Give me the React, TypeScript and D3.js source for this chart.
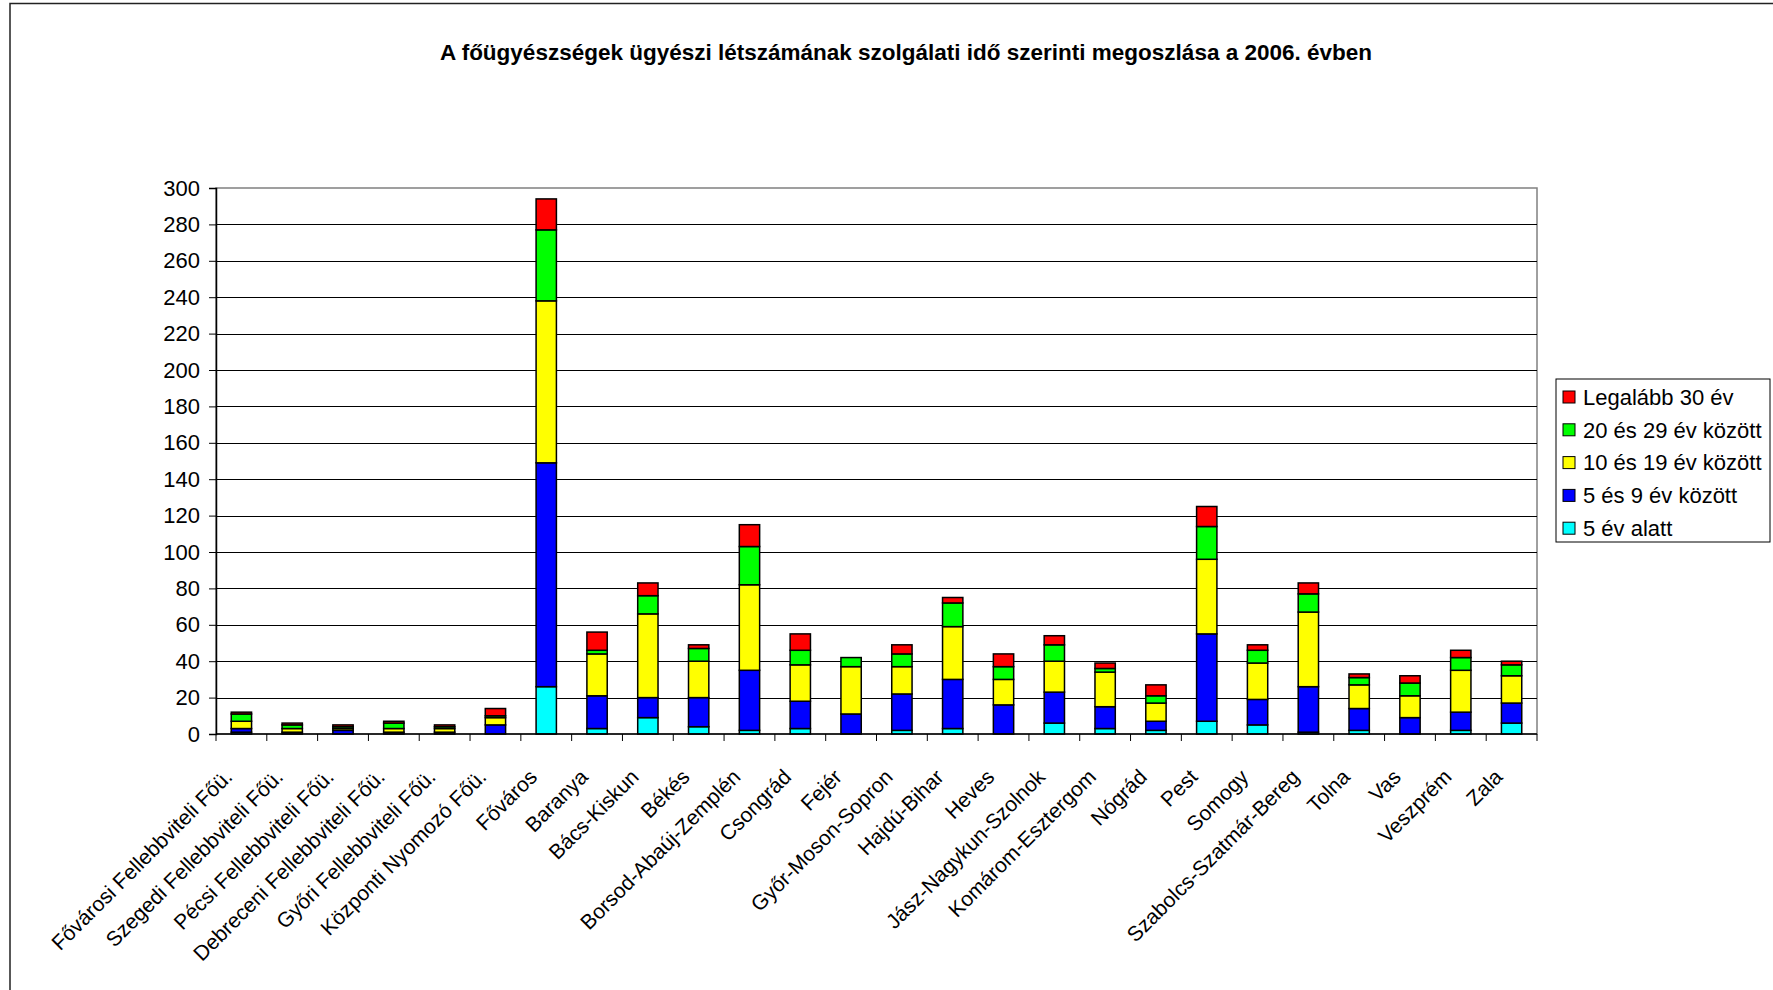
import React, { useEffect, useRef } from 'react';
import * as d3 from 'd3';

const categories = [
  'Fővárosi Fellebbviteli Főü.', 'Szegedi Fellebbviteli Főü.', 'Pécsi Fellebbviteli Főü.',
  'Debreceni Fellebbviteli Főü.', 'Győri Fellebbviteli Főü.', 'Központi Nyomozó Főü.',
  'Főváros', 'Baranya', 'Bács-Kiskun', 'Békés', 'Borsod-Abaúj-Zemplén', 'Csongrád', 'Fejér',
  'Győr-Moson-Sopron', 'Hajdú-Bihar', 'Heves', 'Jász-Nagykun-Szolnok', 'Komárom-Esztergom',
  'Nógrád', 'Pest', 'Somogy', 'Szabolcs-Szatmár-Bereg', 'Tolna', 'Vas', 'Veszprém', 'Zala'
];

const under5 = [1, 0, 0, 0, 0, 0, 26, 3, 9, 4, 2, 3, 0, 2, 3, 0, 6, 3, 2, 7, 5, 1, 2, 0, 2, 6];
const from5to9 = [2, 1, 2, 1, 1, 5, 123, 18, 11, 16, 33, 15, 11, 20, 27, 16, 17, 12, 5, 48, 14, 25, 12, 9, 10, 11];
const from10to19 = [4, 2, 1, 2, 2, 4, 89, 23, 46, 20, 47, 20, 26, 15, 29, 14, 17, 19, 10, 41, 20, 41, 13, 12, 23, 15];
const from20to29 = [4, 2, 1, 3, 1, 1, 39, 2, 10, 7, 21, 8, 5, 7, 13, 7, 9, 2, 4, 18, 7, 10, 4, 7, 7, 6];
const atLeast30 = [1, 1, 1, 1, 1, 4, 17, 10, 7, 2, 12, 9, 0, 5, 3, 7, 5, 3, 6, 11, 3, 6, 2, 4, 4, 2];

const seriesNames = ['5 év alatt', '5 és 9 év között', '10 és 19 év között', '20 és 29 év között', 'Legalább 30 év'];
const seriesColors = ['#00FFFF', '#0000FF', '#FFFF00', '#00FF00', '#FF0000'];
const yTicks = d3.range(0, 301, 20);

const title = 'A főügyészségek ügyészi létszámának szolgálati idő szerinti megoszlása a 2006. évben';
const font = '"Liberation Sans", Arial, sans-serif';

export default function App() {
  const ref = useRef<SVGSVGElement>(null);

  useEffect(() => {
    const svg = d3.select(ref.current);
    svg.selectAll('*').remove();

    const left = 216, right = 1537, top = 188, bottom = 734;

    const rows = categories.map((c, i) => ({
      cat: c,
      s0: under5[i], s1: from5to9[i], s2: from10to19[i], s3: from20to29[i], s4: atLeast30[i]
    }));
    const keys = ['s0', 's1', 's2', 's3', 's4'];
    const stacked = d3.stack<any>().keys(keys)(rows);

    const x = d3.scaleBand().domain(categories).range([left, right]).paddingInner(0.6).paddingOuter(0.3);
    const y = d3.scaleLinear().domain([0, 300]).range([bottom, top]);

    // outer frame
    svg.append('rect')
      .attr('x', 10).attr('y', 3.5).attr('width', 1800).attr('height', 1000)
      .attr('fill', 'none').attr('stroke', '#222').attr('stroke-width', 1.5);

    svg.append('text')
      .attr('x', 906).attr('y', 60)
      .attr('text-anchor', 'middle')
      .attr('font-family', font).attr('font-weight', 'bold').attr('font-size', 22.5)
      .text(title);

    // plot area border
    svg.append('rect')
      .attr('x', left).attr('y', top).attr('width', right - left).attr('height', bottom - top)
      .attr('fill', 'none').attr('stroke', '#808080').attr('stroke-width', 1.5);

    // gridlines
    svg.append('g').selectAll('line')
      .data(yTicks.filter(d => d > 0 && d < 300))
      .enter().append('line')
      .attr('x1', left).attr('x2', right)
      .attr('y1', d => Math.round(y(d)) + 0.5).attr('y2', d => Math.round(y(d)) + 0.5)
      .attr('stroke', '#000').attr('stroke-width', 1);

    // bars
    svg.append('g').selectAll('g')
      .data(stacked)
      .enter().append('g')
      .attr('fill', (d, i) => seriesColors[i])
      .selectAll('rect')
      .data(d => d.filter(s => s[1] > s[0]))
      .enter().append('rect')
      .attr('x', d => x(d.data.cat)!)
      .attr('width', x.bandwidth())
      .attr('y', d => y(d[1]))
      .attr('height', d => y(d[0]) - y(d[1]))
      .attr('stroke', '#000').attr('stroke-width', 1.5);

    // y axis
    const yAxis = svg.append('g')
      .attr('transform', 'translate(' + left + ',0)')
      .call(d3.axisLeft(y).tickValues(yTicks).tickSize(7).tickPadding(9));
    yAxis.select('.domain').attr('stroke', '#000').attr('stroke-width', 1.5);
    yAxis.selectAll('.tick line').attr('stroke', '#000');
    yAxis.selectAll('text').attr('font-family', font).attr('font-size', 22).attr('fill', '#000');

    // x axis line and ticks between categories
    svg.append('line')
      .attr('x1', left).attr('x2', right).attr('y1', bottom).attr('y2', bottom)
      .attr('stroke', '#000').attr('stroke-width', 1.5);
    const step = x.step();
    svg.append('g').selectAll('line')
      .data(d3.range(categories.length + 1))
      .enter().append('line')
      .attr('x1', i => left + i * step).attr('x2', i => left + i * step)
      .attr('y1', bottom).attr('y2', bottom + 7)
      .attr('stroke', '#000').attr('stroke-width', 1);

    svg.append('g').selectAll('text')
      .data(categories)
      .enter().append('text')
      .attr('transform', d => 'translate(' + (x(d)! + x.bandwidth() / 2 - 13) + ',' + (bottom + 39) + ') rotate(-45)')
      .attr('text-anchor', 'end')
      .attr('dy', '0.35em')
      .attr('font-family', font).attr('font-size', 21)
      .text(d => d);

    // legend
    const legend = svg.append('g');
    legend.append('rect')
      .attr('x', 1556).attr('y', 379).attr('width', 214).attr('height', 163)
      .attr('fill', '#fff').attr('stroke', '#000').attr('stroke-width', 1);
    const order = [4, 3, 2, 1, 0];
    const item = legend.selectAll('g.item')
      .data(order)
      .enter().append('g')
      .attr('class', 'item')
      .attr('transform', (d, i) => 'translate(1563,' + (397 + i * 32.8) + ')');
    item.append('rect')
      .attr('x', 0).attr('y', -6).attr('width', 12).attr('height', 12)
      .attr('fill', d => seriesColors[d]).attr('stroke', '#000').attr('stroke-width', 1);
    item.append('text')
      .attr('x', 20).attr('dy', '0.35em')
      .attr('font-family', font).attr('font-size', 22)
      .text(d => seriesNames[d]);
  }, []);

  return <svg ref={ref} width={1773} height={990} style={{ position: 'absolute', left: 0, top: 0, background: '#fff' }} />;
}
